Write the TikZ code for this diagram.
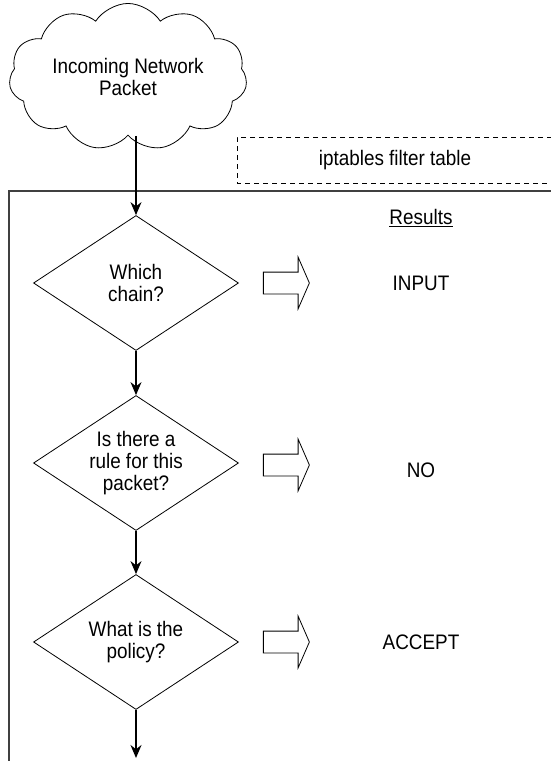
\documentclass[tikz,border=0pt]{standalone}
\usepackage{fontspec}
\setmainfont{Liberation Sans}[FakeStretch=0.9]
\usetikzlibrary{shapes.geometric,shapes.symbols,shapes.arrows,arrows.meta}

\begin{document}
\begin{tikzpicture}[x=1pt,y=-1pt,
    every node/.style={font=\fontsize{21}{22}\selectfont, align=center},
    decision/.style={diamond, draw, line width=0.8pt, aspect=1.5, inner sep=0pt,
      minimum width=205pt, minimum height=135pt},
    result arrow/.style={single arrow, draw, line width=0.8pt, inner sep=10.5pt,
      minimum height=46pt, single arrow head extend=15pt,
      single arrow tip angle=133, single arrow head indent=0pt},
    flow/.style={line width=1.3pt, -{Stealth[length=13pt,width=11pt]}}]
  \useasboundingbox (0,0) rectangle (550,761);

  \node[cloud, draw, line width=0.8pt, cloud puffs=11, cloud puff arc=115,
    aspect=1.8, inner sep=0pt, minimum width=238pt, minimum height=128pt]
    (packet) at (128,77) {Incoming Network\\Packet};

  % filter table frame
  \draw[line width=0.8pt, dash pattern=on 5pt off 4pt]
    (552,137) -- (237,137) -- (237,183) -- (552,183);
  \node (tbl) at (395,160) {iptables filter table};
  \draw[line width=1.3pt, black!75] (552,191) -- (9,191) -- (9,763);

  \node (res) at (421,218) {\underline{Results}};

  \node[decision] (chain)  at (136,283) {Which\\chain?};
  \node[decision] (rule)   at (136,463) {Is there a\\rule for this\\packet?};
  \node[decision] (policy) at (136,642) {What is the\\policy?};
  \coordinate (out) at (136,758);

  \node[result arrow] (a1) at (284,283) {};
  \node[result arrow] (a2) at (284,465) {};
  \node[result arrow] (a3) at (284,642) {};

  \node (input)  at (421,283) {INPUT};
  \node (no)     at (421,470) {NO};
  \node (accept) at (421,642) {ACCEPT};

  \draw[flow] (packet.south -| chain.north) -- (chain.north);
  \draw[flow] (chain.south) -- (rule.north);
  \draw[flow] (rule.south) -- (policy.north);
  \draw[flow] (policy.south) -- (out);
\end{tikzpicture}
\end{document}
